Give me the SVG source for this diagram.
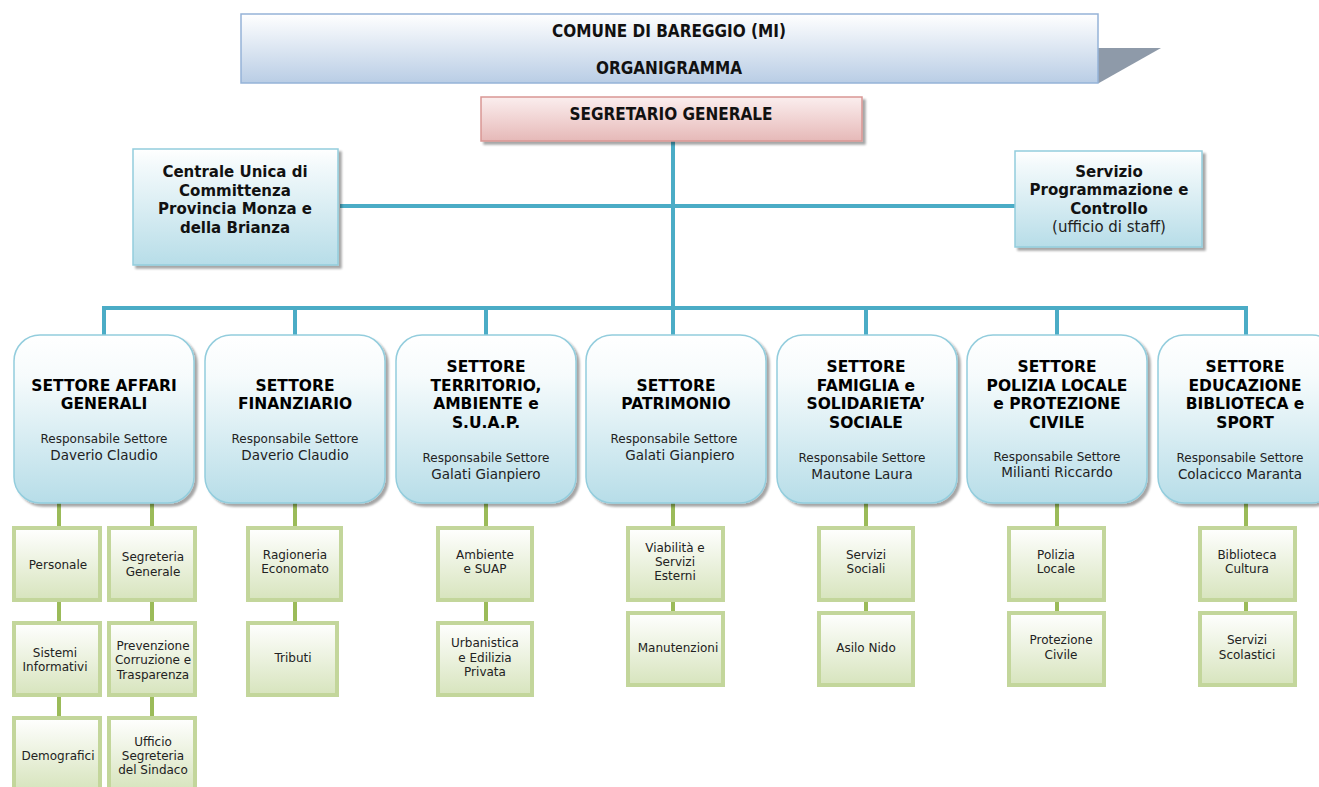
<svg xmlns="http://www.w3.org/2000/svg" width="1319" height="787" viewBox="0 0 1319 787">
<defs>
<linearGradient id="gTitle" x1="0" y1="0" x2="0" y2="1"><stop offset="0" stop-color="#ffffff"/><stop offset="1" stop-color="#b9cde5"/></linearGradient>
<linearGradient id="gPink" x1="0" y1="0" x2="0" y2="1"><stop offset="0" stop-color="#fbeeee"/><stop offset="1" stop-color="#e6b9b8"/></linearGradient>
<linearGradient id="gBlue" x1="0" y1="0" x2="0" y2="1"><stop offset="0" stop-color="#ffffff"/><stop offset="0.15" stop-color="#f2f9fb"/><stop offset="1" stop-color="#b7dde8"/></linearGradient>
<linearGradient id="gSet" x1="0" y1="0" x2="0" y2="1"><stop offset="0" stop-color="#ffffff"/><stop offset="0.25" stop-color="#f6fbfc"/><stop offset="1" stop-color="#b7dde8"/></linearGradient>
<linearGradient id="gGreen" x1="0" y1="0" x2="0" y2="1"><stop offset="0" stop-color="#ffffff"/><stop offset="1" stop-color="#d7e4bd"/></linearGradient>
<filter id="sh" x="-10%" y="-10%" width="130%" height="130%"><feDropShadow dx="3" dy="3" stdDeviation="1" flood-color="#000" flood-opacity="0.35"/></filter>
</defs>
<style>
text{font-family:"DejaVu Sans","Liberation Sans",sans-serif;text-anchor:middle;fill:#000}
.t{font-size:17px;font-weight:bold;font-family:"DejaVu Sans Condensed","DejaVu Sans",sans-serif;fill:#111}
.st{font-size:15.5px;font-weight:bold}
.cb{font-size:15px;font-weight:bold;fill:#111}
.resp{font-size:12px;fill:#222}
.name{font-size:13.5px;fill:#222}
.sub{font-size:12px;fill:#222}
.blue{fill:url(#gBlue);stroke:#93cddd;stroke-width:1.5;filter:url(#sh)}
.set{fill:url(#gSet);stroke:#93cddd;stroke-width:1.5;filter:url(#sh)}
.grn{fill:url(#gGreen);stroke:#c3d69b;stroke-width:4}
.cl{stroke:#4bacc6;stroke-width:4;fill:none}
.gl{stroke:#9bbb59;stroke-width:4;fill:none}
</style>

<g id="connectors">
<path class="cl" d="M673 141 V308 M340 206 H1015 M104 335 V308 H1246 V335 M295 308 V335 M486 308 V335 M673 308 V335 M866 308 V335 M1057 308 V335"/>
<path class="gl" d="M59 503 V787 M152 503 V787 M295 503 V621 M486 503 V621 M673 503 V611 M866 503 V611 M1057 503 V611 M1246 503 V611"/>
</g>

<g id="title">
<polygon points="1098,48 1161,48 1099,83 1098,83" fill="#8e9aa9"/>
<rect x="241" y="14" width="857" height="69" fill="url(#gTitle)" stroke="#95b3d7" stroke-width="1.5"/>
<text class="t" x="669" y="37">COMUNE DI BAREGGIO (MI)</text>
<text class="t" x="669" y="74">ORGANIGRAMMA</text>
</g>

<g id="segretario">
<rect x="481" y="97" width="381" height="44" fill="url(#gPink)" stroke="#d99694" stroke-width="1.5" filter="url(#sh)"/>
<text class="t" x="671" y="120">SEGRETARIO GENERALE</text>
</g>

<g id="centrale">
<rect class="blue" x="133" y="149" width="205" height="116"/>
<text class="cb" x="235" y="177">Centrale Unica di</text>
<text class="cb" x="235" y="196">Committenza</text>
<text class="cb" x="235" y="214">Provincia Monza e</text>
<text class="cb" x="235" y="233">della Brianza</text>
</g>

<g id="servizio">
<rect class="blue" x="1015" y="151" width="187" height="96"/>
<text class="cb" x="1109" y="177">Servizio</text>
<text class="cb" x="1109" y="195">Programmazione e</text>
<text class="cb" x="1109" y="214">Controllo</text>
<text x="1109" y="232" style="font-size:15px;fill:#222">(ufficio di staff)</text>
</g>

<g id="settore-ag">
<rect class="set" x="14" y="335" width="180" height="168" rx="26"/>
<text class="st" x="104" y="391">SETTORE AFFARI</text>
<text class="st" x="104" y="409">GENERALI</text>
<text class="resp" x="104" y="443">Responsabile Settore</text>
<text class="name" x="104" y="460">Daverio Claudio</text>
</g>
<g id="settore-fin">
<rect class="set" x="205" y="335" width="180" height="168" rx="26"/>
<text class="st" x="295" y="391">SETTORE</text>
<text class="st" x="295" y="409">FINANZIARIO</text>
<text class="resp" x="295" y="443">Responsabile Settore</text>
<text class="name" x="295" y="460">Daverio Claudio</text>
</g>
<g id="settore-terr">
<rect class="set" x="396" y="335" width="180" height="168" rx="26"/>
<text class="st" x="486" y="372">SETTORE</text>
<text class="st" x="486" y="391">TERRITORIO,</text>
<text class="st" x="486" y="409">AMBIENTE e</text>
<text class="st" x="486" y="428">S.U.A.P.</text>
<text class="resp" x="486" y="462">Responsabile Settore</text>
<text class="name" x="486" y="479">Galati Gianpiero</text>
</g>
<g id="settore-patr">
<rect class="set" x="586" y="335" width="180" height="168" rx="26"/>
<text class="st" x="676" y="391">SETTORE</text>
<text class="st" x="676" y="409">PATRIMONIO</text>
<text class="resp" x="674" y="443">Responsabile Settore</text>
<text class="name" x="680" y="460">Galati Gianpiero</text>
</g>
<g id="settore-fam">
<rect class="set" x="777" y="335" width="180" height="168" rx="26"/>
<text class="st" x="866" y="372">SETTORE</text>
<text class="st" x="866" y="391">FAMIGLIA e</text>
<text class="st" x="866" y="409">SOLIDARIETA’</text>
<text class="st" x="866" y="428">SOCIALE</text>
<text class="resp" x="862" y="462">Responsabile Settore</text>
<text class="name" x="862" y="479">Mautone Laura</text>
</g>
<g id="settore-pl">
<rect class="set" x="967" y="335" width="180" height="168" rx="26"/>
<text class="st" x="1057" y="372">SETTORE</text>
<text class="st" x="1057" y="391">POLIZIA LOCALE</text>
<text class="st" x="1057" y="409">e PROTEZIONE</text>
<text class="st" x="1057" y="428">CIVILE</text>
<text class="resp" x="1057" y="461">Responsabile Settore</text>
<text class="name" x="1057" y="477">Milianti Riccardo</text>
</g>
<g id="settore-edu">
<rect class="set" x="1158" y="335" width="180" height="168" rx="26"/>
<text class="st" x="1245" y="372">SETTORE</text>
<text class="st" x="1245" y="391">EDUCAZIONE</text>
<text class="st" x="1245" y="409">BIBLIOTECA e</text>
<text class="st" x="1245" y="428">SPORT</text>
<text class="resp" x="1240" y="462">Responsabile Settore</text>
<text class="name" x="1240" y="479">Colacicco Maranta</text>
</g>

<g id="personale"><rect class="grn" x="14" y="528" width="86" height="72"/><text class="sub" x="58" y="569">Personale</text></g>
<g id="sistemi"><rect class="grn" x="14" y="623" width="86" height="72"/><text class="sub" x="55" y="657">Sistemi</text><text class="sub" x="55" y="671">Informativi</text></g>
<g id="demografici"><rect class="grn" x="14" y="718" width="86" height="72"/><text class="sub" x="58" y="760">Demografici</text></g>
<g id="segreteria"><rect class="grn" x="109" y="528" width="86" height="72"/><text class="sub" x="153" y="561">Segreteria</text><text class="sub" x="153" y="576">Generale</text></g>
<g id="prevenzione"><rect class="grn" x="109" y="623" width="86" height="72"/><text class="sub" x="153" y="650">Prevenzione</text><text class="sub" x="153" y="664">Corruzione e</text><text class="sub" x="153" y="679">Trasparenza</text></g>
<g id="ufficio-sindaco"><rect class="grn" x="109" y="718" width="86" height="72"/><text class="sub" x="153" y="746">Ufficio</text><text class="sub" x="153" y="760">Segreteria</text><text class="sub" x="153" y="774">del Sindaco</text></g>

<g id="ragioneria"><rect class="grn" x="248" y="528" width="93" height="72"/><text class="sub" x="295" y="559">Ragioneria</text><text class="sub" x="295" y="573">Economato</text></g>
<g id="tributi"><rect class="grn" x="248" y="623" width="89" height="72"/><text class="sub" x="293" y="662">Tributi</text></g>

<g id="ambiente"><rect class="grn" x="438" y="528" width="94" height="72"/><text class="sub" x="485" y="559">Ambiente</text><text class="sub" x="485" y="573">e SUAP</text></g>
<g id="urbanistica"><rect class="grn" x="438" y="623" width="94" height="72"/><text class="sub" x="485" y="647">Urbanistica</text><text class="sub" x="485" y="662">e Edilizia</text><text class="sub" x="485" y="676">Privata</text></g>

<g id="viabilita"><rect class="grn" x="628" y="528" width="95" height="72"/><text class="sub" x="675" y="552">Viabilità e</text><text class="sub" x="675" y="566">Servizi</text><text class="sub" x="675" y="580">Esterni</text></g>
<g id="manutenzioni"><rect class="grn" x="628" y="613" width="95" height="72"/><text class="sub" x="678" y="652">Manutenzioni</text></g>

<g id="servizi-sociali"><rect class="grn" x="819" y="528" width="94" height="72"/><text class="sub" x="866" y="559">Servizi</text><text class="sub" x="866" y="573">Sociali</text></g>
<g id="asilo"><rect class="grn" x="819" y="613" width="94" height="72"/><text class="sub" x="866" y="652">Asilo Nido</text></g>

<g id="polizia"><rect class="grn" x="1009" y="528" width="95" height="72"/><text class="sub" x="1056" y="559">Polizia</text><text class="sub" x="1056" y="573">Locale</text></g>
<g id="protezione"><rect class="grn" x="1009" y="613" width="95" height="72"/><text class="sub" x="1061" y="644">Protezione</text><text class="sub" x="1061" y="659">Civile</text></g>

<g id="biblioteca"><rect class="grn" x="1200" y="528" width="95" height="72"/><text class="sub" x="1247" y="559">Biblioteca</text><text class="sub" x="1247" y="573">Cultura</text></g>
<g id="scolastici"><rect class="grn" x="1200" y="613" width="95" height="72"/><text class="sub" x="1247" y="644">Servizi</text><text class="sub" x="1247" y="659">Scolastici</text></g>
</svg>
